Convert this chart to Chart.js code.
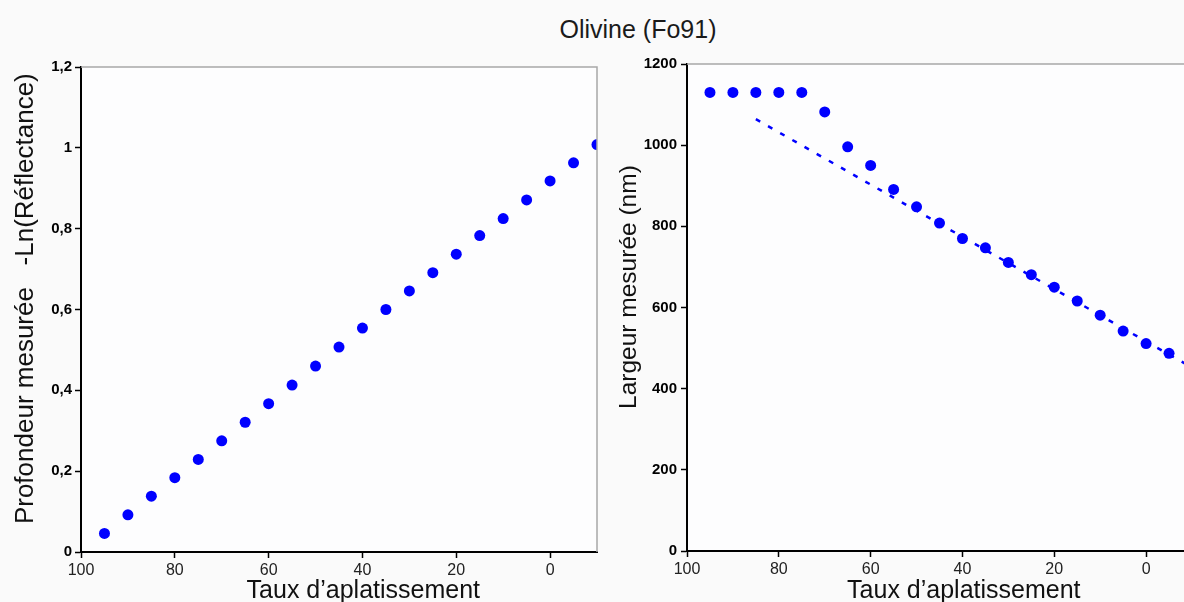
<!DOCTYPE html>
<html lang="fr">
<head>
<meta charset="utf-8">
<title>Olivine (Fo91)</title>
<script src="https://cdn.jsdelivr.net/npm/chart.js@4.4.0/dist/chart.umd.min.js"></script>
<style>
  html, body { margin: 0; padding: 0; background: #fafafa; overflow: hidden; width: 1184px; height: 602px; }
  #titre { position: absolute; left: 538px; width: 200px; top: 15px; line-height: 30px; text-align: center;
           font: 25px "Liberation Sans", Arial, sans-serif; color: #1a1a1a; }
  .panneau { position: absolute; top: 0; }
  #gauche { left: 0; }
  #droite { left: 605px; }
</style>
</head>
<body>
<div id="titre">Olivine (Fo91)</div>
<canvas id="gauche" class="panneau" width="610" height="620"></canvas>
<canvas id="droite" class="panneau" width="600" height="620"></canvas>
<script>
// Taux d'aplatissement (axe x, inversé)
const tauxGauche = [95, 90, 85, 80, 75, 70, 65, 60, 55, 50, 45, 40, 35, 30, 25, 20, 15, 10, 5, 0, -5, -10];
const profondeur = [0.046, 0.092, 0.138, 0.184, 0.229, 0.275, 0.321, 0.367, 0.413, 0.46, 0.507,
  0.554, 0.600, 0.646, 0.691, 0.737, 0.783, 0.825, 0.871, 0.918, 0.963, 1.008];

const tauxDroite = [95, 90, 85, 80, 75, 70, 65, 60, 55, 50, 45, 40, 35, 30, 25, 20, 15, 10, 5, 0, -5];
const largeur = [1130, 1130, 1130, 1130, 1130, 1082, 996, 950, 891, 848, 808, 770, 747, 711,
  681, 650, 616, 581, 542, 511, 487];

// droite de tendance (pointillés)
const tendanceX = [85, -10];
const tendanceY = [1064, 452];

const ticksX = [100, 80, 60, 40, 20, 0];
const ticksProfondeur = [0, 0.2, 0.4, 0.6, 0.8, 1, 1.2];
const ticksLargeur = [0, 200, 400, 600, 800, 1000, 1200];

const BLEU = "#0000ff";

Chart.defaults.font.family = '"Liberation Sans", Arial, sans-serif';
Chart.defaults.color = "#111";

const cadre = {
  id: "cadre",
  beforeDraw(chart) {
    const { ctx, chartArea: a } = chart;
    ctx.save();
    ctx.fillStyle = "#fdfdfe";
    ctx.fillRect(a.left, a.top, a.right - a.left, a.bottom - a.top);
    ctx.restore();
  },
  afterDraw(chart) {
    const { ctx, chartArea: a } = chart;
    ctx.save();
    ctx.strokeStyle = "#a8a8a8";
    ctx.lineWidth = 1.5;
    ctx.beginPath();
    ctx.moveTo(a.left, a.top);
    ctx.lineTo(a.right, a.top);
    ctx.lineTo(a.right, a.bottom);
    ctx.stroke();
    ctx.restore();
  }
};

const points = (xs, ys) => xs.map((x, i) => ({ x, y: ys[i] }));
const virgule = v => String(Math.round(v * 10) / 10).replace(".", ",");

function axeX(hauteur) {
  return {
    type: "linear",
    reverse: true,
    min: -10,
    max: 100,
    afterBuildTicks: scale => { scale.ticks = ticksX.map(value => ({ value })); },
    afterFit: scale => { scale.height = hauteur; },
    border: { color: "#000", width: 2 },
    grid: { drawOnChartArea: false, tickLength: 6, tickColor: "#000", tickWidth: 1.5 },
    ticks: { font: { size: 16 }, color: "#222", padding: 3 },
    title: {
      display: true,
      text: "       Taux d\u2019aplatissement",
      font: { size: 25 },
      color: "#111",
      padding: { top: 0, bottom: 14 }
    }
  };
}

function axeY(largeurAxe, valeurs, titre, taille, titreTaille, pad, titrePad, format) {
  return {
    type: "linear",
    min: valeurs[0],
    max: valeurs[valeurs.length - 1],
    afterBuildTicks: scale => { scale.ticks = valeurs.map(value => ({ value })); },
    afterFit: scale => { scale.width = largeurAxe; },
    border: { color: "#000", width: 2 },
    grid: { drawOnChartArea: false, tickLength: 6, tickColor: "#000", tickWidth: 1.5 },
    ticks: { font: { size: taille, weight: "bold" }, color: "#000", padding: pad, callback: format },
    title: { display: true, text: titre, font: { size: titreTaille }, color: "#111", padding: { top: titrePad, bottom: 0 } }
  };
}

const communs = {
  responsive: false,
  animation: false,
  plugins: { legend: { display: false }, tooltip: { enabled: false } }
};

new Chart(document.getElementById("gauche"), {
  type: "scatter",
  data: {
    datasets: [{
      data: points(tauxGauche, profondeur),
      backgroundColor: BLEU,
      borderWidth: 0,
      pointRadius: 5.5
    }]
  },
  options: {
    ...communs,
    layout: { padding: { top: 67, right: 13, left: 0, bottom: 0 } },
    scales: {
      x: axeX(68),
      y: axeY(81, ticksProfondeur, "   Profondeur mesur\u00e9e   -Ln(R\u00e9flectance)", 15, 26, 3, 10, virgule)
    }
  },
  plugins: [cadre]
});

new Chart(document.getElementById("droite"), {
  type: "scatter",
  data: {
    datasets: [{
      data: points(tauxDroite, largeur),
      backgroundColor: BLEU,
      borderWidth: 0,
      pointRadius: 5.5
    }, {
      type: "line",
      data: points(tendanceX, tendanceY),
      borderColor: BLEU,
      borderWidth: 2.5,
      borderDash: [5, 9],
      pointRadius: 0,
      fill: false
    }]
  },
  options: {
    ...communs,
    layout: { padding: { top: 64, right: 13, left: 0, bottom: 0 } },
    scales: {
      x: axeX(69),
      y: axeY(82, ticksLargeur, "      Largeur mesur\u00e9e (nm)", 15, 24.5, 4, 10, v => String(v))
    }
  },
  plugins: [cadre]
});
</script>
</body>
</html>
